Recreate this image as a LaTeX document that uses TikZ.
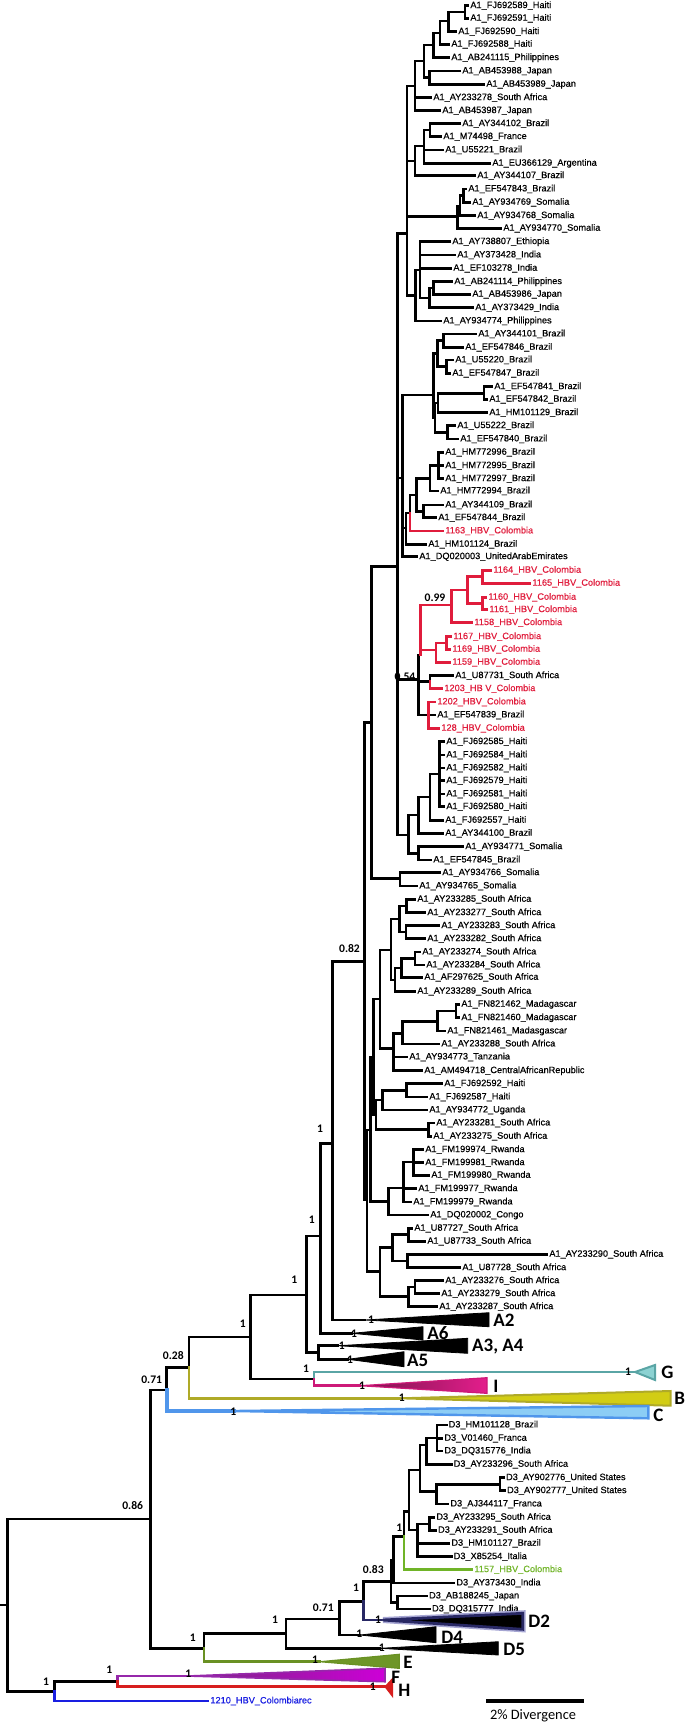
\documentclass[tikz,border=0pt]{standalone}
\usepackage{fontspec}
\setmainfont{Liberation Sans}
\newfontfamily\tipfont{Liberation Sans}[FakeBold=0.5]
\newfontfamily\calfont{Carlito}
\definecolor{hbvred}{RGB}{224,28,60}
\definecolor{hbvgreen}{RGB}{112,180,40}
\definecolor{hbvblue}{RGB}{25,30,225}
\definecolor{tealline}{RGB}{90,165,165}
\definecolor{tealfill}{RGB}{140,210,210}
\definecolor{magline}{RGB}{205,25,120}
\definecolor{magdark}{RGB}{120,20,75}
\definecolor{magbright}{RGB}{228,30,140}
\definecolor{oliveline}{RGB}{175,170,40}
\definecolor{olivefill}{RGB}{210,205,20}
\definecolor{cline}{RGB}{80,150,235}
\definecolor{cfill}{RGB}{140,205,245}
\definecolor{eline}{RGB}{105,145,35}
\definecolor{efill}{RGB}{110,150,40}
\definecolor{fline}{RGB}{150,40,170}
\definecolor{fdark}{RGB}{120,40,130}
\definecolor{fbright}{RGB}{205,0,215}
\definecolor{hline}{RGB}{215,30,30}
\definecolor{navy}{RGB}{40,40,100}
\definecolor{navyhalo}{RGB}{165,165,210}
\tikzset{
  br/.style={line width=1.25pt, line cap=rect, line join=miter},
  tip/.style={anchor=west, inner xsep=1pt, inner ysep=0pt, text height=3.3pt, text depth=0.9pt, font=\tipfont\fontsize{4.6}{5}\selectfont},
  redtip/.style={tip, text=hbvred},
  sup/.style={inner sep=0pt, font=\calfont\bfseries\fontsize{5.8}{6}\selectfont},
  clade/.style={anchor=west, inner sep=0pt, font=\calfont\bfseries\fontsize{9.5}{10}\selectfont},
  tri/.style={fill=black, draw=black, line width=0.4pt, line join=miter}
}
\begin{document}
\begin{tikzpicture}[x=0.5pt,y=-0.5pt]
\useasboundingbox (0,0) rectangle (685,1722);
% ---------- leaves (A1) ----------
\node[tip] (t1) at (468,5.7) {A1\_FJ692589\_Haiti};
\node[tip] (t2) at (468,18.3) {A1\_FJ692591\_Haiti};
\node[tip] (t3) at (456,31.7) {A1\_FJ692590\_Haiti};
\node[tip] (t4) at (449,44.3) {A1\_FJ692588\_Haiti};
\node[tip] (t5) at (449,57.7) {A1\_AB241115\_Philippines};
\node[tip] (t6) at (460,71) {A1\_AB453988\_Japan};
\node[tip] (t7) at (484,84.3) {A1\_AB453989\_Japan};
\node[tip] (t8) at (431,97.7) {A1\_AY233278\_South Africa};
\node[tip] (t9) at (440,110.7) {A1\_AB453987\_Japan};
\node[tip] (t10) at (460,123.7) {A1\_AY344102\_Brazil};
\node[tip] (t11) at (441,136.7) {A1\_M74498\_France};
\node[tip] (t12) at (443,150) {A1\_U55221\_Brazil};
\node[tip] (t13) at (490,163.3) {A1\_EU366129\_Argentina};
\node[tip] (t14) at (475,175.7) {A1\_AY344107\_Brazil};
\node[tip] (t15) at (466,189) {A1\_EF547843\_Brazil};
\node[tip] (t16) at (470,202.3) {A1\_AY934769\_Somalia};
\node[tip] (t17) at (475,215.7) {A1\_AY934768\_Somalia};
\node[tip] (t18) at (501,228.3) {A1\_AY934770\_Somalia};
\node[tip] (t19) at (450,241.7) {A1\_AY738807\_Ethiopia};
\node[tip] (t20) at (455,255) {A1\_AY373428\_India};
\node[tip] (t21) at (451,268.3) {A1\_EF103278\_India};
\node[tip] (t22) at (452,281.7) {A1\_AB241114\_Philippines};
\node[tip] (t23) at (470,294.3) {A1\_AB453986\_Japan};
\node[tip] (t24) at (473,307.7) {A1\_AY373429\_India};
\node[tip] (t25) at (441,321) {A1\_AY934774\_Philippines};
\node[tip] (t26) at (476,334) {A1\_AY344101\_Brazil};
\node[tip] (t27) at (463,347.3) {A1\_EF547846\_Brazil};
\node[tip] (t28) at (453,360) {A1\_U55220\_Brazil};
\node[tip] (t29) at (450,373.3) {A1\_EF547847\_Brazil};
\node[tip] (t30) at (492,386.7) {A1\_EF547841\_Brazil};
\node[tip] (t31) at (487,399.3) {A1\_EF547842\_Brazil};
\node[tip] (t32) at (487,412.7) {A1\_HM101129\_Brazil};
\node[tip] (t33) at (455,425.7) {A1\_U55222\_Brazil};
\node[tip] (t34) at (458,439) {A1\_EF547840\_Brazil};
\node[tip] (t35) at (443,452.3) {A1\_HM772996\_Brazil};
\node[tip] (t36) at (443,465.7) {A1\_HM772995\_Brazil};
\node[tip] (t37) at (443,478.7) {A1\_HM772997\_Brazil};
\node[tip] (t38) at (438,491) {A1\_HM772994\_Brazil};
\node[tip] (t39) at (443,505) {A1\_AY344109\_Brazil};
\node[tip] (t40) at (436,517.7) {A1\_EF547844\_Brazil};
\node[redtip] (t41) at (443,531) {1163\_HBV\_Colombia};
\node[tip] (t42) at (426,544.3) {A1\_HM101124\_Brazil};
\node[tip] (t43) at (417,556.7) {A1\_DQ020003\_UnitedArabEmirates};
\node[redtip] (t44) at (491,570.3) {1164\_HBV\_Colombia};
\node[redtip] (t45) at (530,583.3) {1165\_HBV\_Colombia};
\node[redtip] (t46) at (486,597.3) {1160\_HBV\_Colombia};
\node[redtip] (t47) at (487,609.7) {1161\_HBV\_Colombia};
\node[redtip] (t48) at (472,622.7) {1158\_HBV\_Colombia};
\node[redtip] (t49) at (451,636.7) {1167\_HBV\_Colombia};
\node[redtip] (t50) at (450,649.3) {1169\_HBV\_Colombia};
\node[redtip] (t51) at (450,662.3) {1159\_HBV\_Colombia};
\node[tip] (t52) at (453,675.7) {A1\_U87731\_South Africa};
\node[redtip] (t53) at (442,688.7) {1203\_HB V\_Colombia};
\node[redtip] (t54) at (435,702) {1202\_HBV\_Colombia};
\node[tip] (t55) at (435,715) {A1\_EF547839\_Brazil};
\node[redtip] (t56) at (439,728.3) {128\_HBV\_Colombia};
\node[tip] (t57) at (444,741.7) {A1\_FJ692585\_Haiti};
\node[tip] (t58) at (444,755) {A1\_FJ692584\_Haiti};
\node[tip] (t59) at (444,768) {A1\_FJ692582\_Haiti};
\node[tip] (t60) at (444,780.7) {A1\_FJ692579\_Haiti};
\node[tip] (t61) at (444,794) {A1\_FJ692581\_Haiti};
\node[tip] (t62) at (444,806.7) {A1\_FJ692580\_Haiti};
\node[tip] (t63) at (443,820.3) {A1\_FJ692557\_Haiti};
\node[tip] (t64) at (443,833.3) {A1\_AY344100\_Brazil};
\node[tip] (t65) at (463,846.7) {A1\_AY934771\_Somalia};
\node[tip] (t66) at (431,860) {A1\_EF547845\_Brazil};
\node[tip] (t67) at (440,872.7) {A1\_AY934766\_Somalia};
\node[tip] (t68) at (417,886) {A1\_AY934765\_Somalia};
\node[tip] (t69) at (415,899.3) {A1\_AY233285\_South Africa};
\node[tip] (t70) at (425,912.7) {A1\_AY233277\_South Africa};
\node[tip] (t71) at (439,925.7) {A1\_AY233283\_South Africa};
\node[tip] (t72) at (425,938.7) {A1\_AY233282\_South Africa};
\node[tip] (t73) at (420,952) {A1\_AY233274\_South Africa};
\node[tip] (t74) at (424,965) {A1\_AY233284\_South Africa};
\node[tip] (t75) at (422,977.3) {A1\_AF297625\_South Africa};
\node[tip] (t76) at (415,991.3) {A1\_AY233289\_South Africa};
\node[tip] (t77) at (459,1004.3) {A1\_FN821462\_Madagascar};
\node[tip] (t78) at (459,1017.7) {A1\_FN821460\_Madagascar};
\node[tip] (t79) at (445,1031) {A1\_FN821461\_Madasgascar};
\node[tip] (t80) at (439,1044) {A1\_AY233288\_South Africa};
\node[tip] (t81) at (407,1057) {A1\_AY934773\_Tanzania};
\node[tip] (t82) at (422,1070.7) {A1\_AM494718\_CentralAfricanRepublic};
\node[tip] (t83) at (442,1083.7) {A1\_FJ692592\_Haiti};
\node[tip] (t84) at (427,1097) {A1\_FJ692587\_Haiti};
\node[tip] (t85) at (427,1110) {A1\_AY934772\_Uganda};
\node[tip] (t86) at (434,1123) {A1\_AY233281\_South Africa};
\node[tip] (t87) at (431,1136.3) {A1\_AY233275\_South Africa};
\node[tip] (t88) at (423,1149.7) {A1\_FM199974\_Rwanda};
\node[tip] (t89) at (423,1162.7) {A1\_FM199981\_Rwanda};
\node[tip] (t90) at (429,1175.3) {A1\_FM199980\_Rwanda};
\node[tip] (t91) at (416,1188.7) {A1\_FM199977\_Rwanda};
\node[tip] (t92) at (411,1202) {A1\_FM199979\_Rwanda};
\node[tip] (t93) at (428,1215) {A1\_DQ020002\_Congo};
\node[tip] (t94) at (412,1228.3) {A1\_U87727\_South Africa};
\node[tip] (t95) at (425,1241.3) {A1\_U87733\_South Africa};
\node[tip] (t96) at (547,1254.3) {A1\_AY233290\_South Africa};
\node[tip] (t97) at (460,1267.7) {A1\_U87728\_South Africa};
\node[tip] (t98) at (443,1280.7) {A1\_AY233276\_South Africa};
\node[tip] (t99) at (439,1293.7) {A1\_AY233279\_South Africa};
\node[tip] (t100) at (437,1306.7) {A1\_AY233287\_South Africa};
% ---------- leaves (D3 etc.) ----------
\node[tip] (d1) at (446.3,1425) {D3\_HM101128\_Brazil};
\node[tip] (d2) at (442,1438.3) {D3\_V01460\_Franca};
\node[tip] (d3) at (442,1451) {D3\_DQ315776\_India};
\node[tip] (d4) at (451.3,1464.3) {D3\_AY233296\_South Africa};
\node[tip] (d5) at (503.7,1477.7) {D3\_AY902776\_United States};
\node[tip] (d6) at (504.7,1490.7) {D3\_AY902777\_United States};
\node[tip] (d7) at (448,1504) {D3\_AJ344117\_Franca};
\node[tip] (d8) at (434,1517.3) {D3\_AY233295\_South Africa};
\node[tip] (d9) at (435.7,1530.3) {D3\_AY233291\_South Africa};
\node[tip] (d10) at (449,1543.3) {D3\_HM101127\_Brazil};
\node[tip] (d11) at (451.3,1556.7) {D3\_X85254\_Italia};
\node[tip, text=hbvgreen] (d12) at (472,1569.7) {1157\_HBV\_Colombia};
\node[tip] (d13) at (454,1583) {D3\_AY373430\_India};
\node[tip] (d14) at (426.7,1596) {D3\_AB188245\_Japan};
\node[tip] (d15) at (429.7,1609) {D3\_DQ315777\_India};
\node[tip, text=hbvblue] (x1210) at (208,1701) {1210\_HBV\_Colombiarec};
% ---------- internal nodes ----------
\coordinate (h1) at (465,12);
\coordinate (h2) at (448.3,21);
\coordinate (h3) at (440,33);
\coordinate (h4) at (433.3,45);
\coordinate (j1) at (429.3,77.7);
\coordinate (h5) at (424,61);
\coordinate (h6) at (415,86);
\coordinate (m1) at (430,130);
\coordinate (m2) at (424,146);
\coordinate (m3) at (415,161);
\coordinate (s1) at (463.3,195.7);
\coordinate (s2) at (460,206);
\coordinate (s3) at (457.3,216.7);
\coordinate (nt1) at (433.3,288);
\coordinate (nt2) at (429.3,298);
\coordinate (nt3) at (420,270);
\coordinate (nt4) at (415.3,295.7);
\coordinate (q1) at (407,233.3);
\coordinate (b1) at (443.3,340.7);
\coordinate (b2) at (446.7,366.7);
\coordinate (b3) at (437.3,353.7);
\coordinate (b4) at (484,393.3);
\coordinate (b5) at (438,403);
\coordinate (b6) at (447.7,432.3);
\coordinate (b7) at (435,418);
\coordinate (b8) at (433.3,395);
\coordinate (c1) at (438.3,465.7);
\coordinate (c2) at (430,478.3);
\coordinate (c4) at (423.3,511.3);
\coordinate (c3) at (416.7,495);
\coordinate (c5) at (410,513);
\coordinate (c6) at (406,528);
\coordinate (q3) at (402.5,478);
\coordinate (r1) at (482.7,576.7);
\coordinate (r3) at (482.7,603.5);
\coordinate (r2) at (467.5,590);
\coordinate (r4) at (451.7,605);
\coordinate (r7) at (446.7,643);
\coordinate (r6) at (436,650);
\coordinate (r5) at (420.7,655);
\coordinate (x1) at (430,681.7);
\coordinate (x2) at (428.3,715);
\coordinate (n054) at (418.3,679.3);
\coordinate (hd1) at (439.3,774);
\coordinate (hd2) at (430,797);
\coordinate (hd3) at (418.3,815);
\coordinate (hd5) at (418.3,853.3);
\coordinate (hd4) at (408.3,835);
\coordinate (q2) at (397.3,566.7);
\coordinate (nv) at (400,878.3);
\coordinate (nr) at (371.7,722.5);
\coordinate (sa1) at (406.7,906);
\coordinate (sa2) at (406,932);
\coordinate (sa3) at (399.3,919);
\coordinate (sa4) at (415,958.5);
\coordinate (sa5) at (401.7,968);
\coordinate (sa6) at (395,980);
\coordinate (sa7) at (391,950);
\coordinate (mg1) at (456,1011);
\coordinate (mg2) at (437.3,1021.7);
\coordinate (mg3) at (402.7,1033.3);
\coordinate (mg4) at (393.3,1048.3);
\coordinate (sa8) at (380,999);
\coordinate (hu1) at (406.7,1090.3);
\coordinate (hu2) at (382.7,1100);
\coordinate (hu3) at (428.3,1129.7);
\coordinate (hu4) at (376,1115);
\coordinate (na) at (373.5,1057);
\coordinate (rw1) at (413.3,1162);
\coordinate (rw2) at (403.3,1188);
\coordinate (rw3) at (388.3,1201.7);
\coordinate (nb) at (370.7,1130);
\coordinate (u1) at (408.3,1234.7);
\coordinate (u2) at (407.3,1261);
\coordinate (u3) at (392.3,1247.3);
\coordinate (u5) at (415,1287);
\coordinate (u6) at (408.3,1296.7);
\coordinate (u7) at (380,1271.7);
\coordinate (nc) at (367,1200);
\coordinate (ns) at (364.5,961.7);
\coordinate (nt) at (332.7,1143.3);
\coordinate (nbb) at (320.7,1236);
\coordinate (na34) at (318.3,1352.7);
\coordinate (naa) at (306.7,1295);
\coordinate (ngi) at (314,1379);
\coordinate (nd) at (250.7,1337);
\coordinate (n028) at (189,1367.7);
\coordinate (n071) at (166.7,1390);
\coordinate (n086) at (150.7,1519);
\coordinate (dn9) at (500,1484.3);
\coordinate (dn7) at (436.7,1491.7);
\coordinate (dn8) at (437,1438);
\coordinate (dn6) at (426.7,1445);
\coordinate (dn5) at (420,1470);
\coordinate (dn11) at (429.3,1523.8);
\coordinate (dn4) at (417.3,1530);
\coordinate (dn2) at (409,1511.7);
\coordinate (dn1) at (404,1536.7);
\coordinate (dnc) at (393.3,1560);
\coordinate (dab) at (397.7,1602.7);
\coordinate (d83) at (391,1581.7);
\coordinate (d23) at (363.3,1601.7);
\coordinate (d071) at (339.3,1619);
\coordinate (dd1) at (286,1633.3);
\coordinate (dde) at (204,1648.3);
\coordinate (fh) at (117.3,1681.7);
\coordinate (fh1) at (54.3,1691.7);
\coordinate (root) at (7.3,1605);
\coordinate (rs) at (0,1605);
% collapsed clade apexes
\coordinate (A2ap) at (365,1320);
\coordinate (A6ap) at (352,1333.3);
\coordinate (A34ap) at (338,1345.7);
\coordinate (A5ap) at (348,1359.3);
\coordinate (Gap) at (635,1372);
\coordinate (Iap) at (360,1385.7);
\coordinate (Bap) at (400,1398.3);
\coordinate (Cap) at (234,1411);
\coordinate (D2ap) at (383,1620);
\coordinate (D4ap) at (360,1635);
\coordinate (D5ap) at (380,1648.3);
\coordinate (Eap) at (320,1661.7);
\coordinate (Fap) at (188,1676);
\coordinate (Hap) at (385,1686.7);
% ---------- black branches ----------
\foreach \p/\c in {h1/t1,h1/t2,h2/h1,h2/t3,h3/h2,h3/t4,h4/h3,h4/t5,j1/t6,j1/t7,h5/h4,h5/j1,h6/h5,h6/t8,h6/t9,
  m1/t10,m1/t11,m2/m1,m2/t12,m2/t13,m3/m2,m3/t14,s1/t15,s1/t16,s2/s1,s2/t17,s3/s2,s3/t18,
  nt1/t22,nt1/t23,nt2/nt1,nt2/t24,nt3/t19,nt3/t20,nt3/t21,nt3/nt2,nt4/nt3,nt4/t25,q1/h6,q1/m3,q1/s3,q1/nt4,
  b1/t26,b1/t27,b2/t28,b2/t29,b3/b1,b3/b2,b4/t30,b4/t31,b5/b4,b5/t32,b6/t33,b6/t34,b7/b5,b7/b6,b8/b3,b8/b7,
  c1/t35,c1/t36,c1/t37,c2/c1,c2/t38,c4/t39,c4/t40,c3/c2,c3/c4,c5/c3,c6/c5,c6/t42,q3/b8,q3/c6,q3/t43,
  n054/r5,x1/t52,x2/t55,n054/x1,n054/x2,
  hd1/t57,hd1/t58,hd1/t59,hd1/t60,hd1/t61,hd1/t62,hd2/hd1,hd2/t63,hd3/hd2,hd3/t64,hd5/t65,hd5/t66,hd4/hd3,hd4/hd5,
  q2/q1,q2/q3,q2/n054,q2/hd4,nv/t67,nv/t68,nr/q2,nr/nv,
  sa1/t69,sa1/t70,sa2/t71,sa2/t72,sa3/sa1,sa3/sa2,sa4/t73,sa4/t74,sa5/sa4,sa5/t75,sa6/sa5,sa6/t76,sa7/sa3,sa7/sa6,
  mg1/t77,mg1/t78,mg2/mg1,mg2/t79,mg3/mg2,mg3/t80,mg4/mg3,mg4/t81,mg4/t82,sa8/sa7,sa8/mg4,
  hu1/t83,hu1/t84,hu2/hu1,hu2/t85,hu3/t86,hu3/t87,hu4/hu2,hu4/hu3,na/sa8,na/hu4,
  rw1/t88,rw1/t89,rw1/t90,rw2/rw1,rw2/t91,rw2/t92,rw3/rw2,rw3/t93,nb/na,nb/rw3,
  u1/t94,u1/t95,u2/t96,u2/t97,u3/u1,u3/u2,u5/t98,u5/t99,u6/u5,u6/t100,u7/u3,u7/u6,nc/nb,nc/u7,
  ns/nr,ns/nc,nt/ns,nt/A2ap,nbb/nt,nbb/A6ap,na34/A34ap,na34/A5ap,naa/nbb,naa/na34,nd/naa,nd/ngi,
  n028/nd,n071/n028,n086/n071,root/n086,root/fh1,fh1/fh,
  dn9/d5,dn9/d6,dn7/dn9,dn7/d7,dn8/d1,dn8/d2,dn8/d3,dn6/dn8,dn6/d4,dn5/dn6,dn5/dn7,dn11/d8,dn11/d9,
  dn4/dn11,dn4/d10,dn4/d11,dn2/dn5,dn2/dn4,dn1/dn2,dnc/dn1,dnc/d13,dab/d14,dab/d15,d83/dnc,d83/dab,
  d23/d83,d071/d23,d071/D4ap,dd1/d071,dd1/D5ap,dde/dd1,n086/dde}
  \draw[br] (\p) |- (\c);
\draw[br] (rs) -- (root);
% ---------- red branches ----------
\foreach \p/\c in {c5/t41,r5/r4,r5/r6,r4/r2,r4/t48,r2/r1,r2/r3,r1/t44,r1/t45,r3/t46,r3/t47,
  r6/r7,r6/t51,r7/t49,r7/t50,x1/t53,x2/t54,x2/t56}
  \draw[br, hbvred] (\p) |- (\c);
% ---------- other coloured branches ----------
\draw[br, hbvgreen] (dn1) |- (d12);
\draw[br, hbvblue] (fh1) |- (x1210);
\draw[br, tealline] (ngi) |- (Gap);
\draw[br, magline] (ngi) |- (Iap);
\draw[br, oliveline] (n028) |- (Bap);
\draw[br, cline, line width=1.8pt] (n071) |- (Cap);
\draw[br, navy] (d23) |- (D2ap);
\draw[br, eline] (dde) |- (Eap);
\draw[br, fline] (fh) |- (Fap);
\draw[br, hline] (fh) |- (Hap);
% ---------- collapsed clades ----------
\draw[tri] (A2ap) -- (489,1312.7) -- (489,1326.7) -- cycle;
\draw[tri] (A6ap) -- (423,1326.7) -- (423,1340) -- cycle;
\draw[tri] (A34ap) -- (467.7,1338.3) -- (467.7,1353.3) -- cycle;
\draw[tri] (A5ap) -- (404,1351.7) -- (404,1366.7) -- cycle;
\draw[fill=tealfill, draw=tealline, line width=1pt, line join=miter] (Gap) -- (655,1365) -- (655,1380) -- cycle;
\draw[left color=magdark, right color=magbright, draw=magline, line width=0.6pt] (Iap) -- (487,1377.7) -- (487,1393.3) -- cycle;
\draw[fill=olivefill, draw=oliveline, line width=1pt, line join=miter] (Bap) -- (670.7,1391) -- (670.7,1405.7) -- cycle;
\draw[fill=cfill, draw=cline, line width=1.2pt, line join=miter] (Cap) -- (648.3,1406) -- (648.3,1418.3) -- cycle;
\draw[draw=navyhalo, line width=3pt, line join=miter] (D2ap) -- (522.7,1613.3) -- (522.7,1629.3) -- cycle;
\draw[fill=black, draw=navy, line width=1.4pt, line join=miter] (D2ap) -- (522.7,1613.3) -- (522.7,1629.3) -- cycle;
\draw[tri] (D4ap) -- (436,1626.7) -- (436,1642.7) -- cycle;
\draw[tri] (D5ap) -- (498.3,1641.7) -- (498.3,1655) -- cycle;
\draw[fill=efill, draw=eline, line width=0.6pt] (Eap) -- (399.3,1654.3) -- (399.3,1668.3) -- cycle;
\draw[left color=fdark, right color=fbright, draw=fline, line width=0.8pt] (Fap) -- (385,1668.3) -- (385,1681.7) -- cycle;
\draw[fill=hline, draw=hline, line width=0.5pt] (Hap) -- (392.7,1678.3) -- (392.7,1696.7) -- cycle;
% ---------- clade labels ----------
\node[clade] (lA2) at (493,1320) {A2};
\node[clade] (lA6) at (427,1333.3) {A6};
\node[clade] (lA34) at (471.7,1346.7) {A3, A4};
\node[clade] (lA5) at (406.7,1360.7) {A5};
\node[clade] (lG) at (661,1372) {G};
\node[clade] (lI) at (493,1386) {I};
\node[clade] (lB) at (674,1398.3) {B};
\node[clade] (lC) at (653,1415.5) {C};
\node[clade] (lD2) at (528,1621.7) {D2};
\node[clade] (lD4) at (441,1637) {D4};
\node[clade] (lD5) at (503,1649) {D5};
\node[clade] (lE) at (403,1662.5) {E};
\node[clade] (lF) at (391,1677.5) {F};
\node[clade] (lH) at (398,1690) {H};
% ---------- support values ----------
\node[sup] (p1) at (349.5,948.3) {0.82};
\node[sup] (p2) at (435,597.7) {0.99};
\node[sup] (p3) at (405,677) {0.54};
\node[sup] (p4) at (320,1129) {1};
\node[sup] (p5) at (311.7,1219.3) {1};
\node[sup] (p6) at (294.3,1279.3) {1};
\node[sup] (p7) at (242.7,1324) {1};
\node[sup] (p8) at (306,1369) {1};
\node[sup] (p9) at (173.3,1355.7) {0.28};
\node[sup] (p10) at (151.7,1380) {0.71};
\node[sup] (p11) at (132.7,1506) {0.86};
\node[sup] (p12) at (192.7,1638) {1};
\node[sup] (p13) at (275,1620) {1};
\node[sup] (p14) at (323.3,1608) {0.71};
\node[sup] (p15) at (356,1587.7) {1};
\node[sup] (p16) at (373.3,1569.3) {0.83};
\node[sup] (p17) at (399.3,1527.3) {1};
\node[sup] (p18) at (46,1681.7) {1};
\node[sup] (p19) at (109.3,1670) {1};
\node[sup] (p20) at (371,1320) {1};
\node[sup] (p21) at (354,1333.3) {1};
\node[sup] (p22) at (341.7,1345.7) {1};
\node[sup] (p23) at (350,1359.3) {1};
\node[sup] (p24) at (628,1372) {1};
\node[sup] (p25) at (362,1386) {1};
\node[sup] (p26) at (401.7,1398) {1};
\node[sup] (p27) at (233.3,1411.7) {1};
\node[sup] (p28) at (378,1620) {1};
\node[sup] (p29) at (359.3,1633.3) {1};
\node[sup] (p30) at (381.7,1647.7) {1};
\node[sup] (p31) at (315,1660) {1};
\node[sup] (p32) at (188.3,1674) {1};
\node[sup] (p33) at (372.7,1686.7) {1};
% ---------- scale bar ----------
\coordinate (sb1) at (486,1701);
\coordinate (sb2) at (584,1701);
\draw[line width=2pt] (sb1) -- (sb2);
\node[inner sep=0pt, font=\calfont\fontsize{7.2}{8}\selectfont] (sbl) at (533,1715.5) {2\% Divergence};
\end{tikzpicture}
\end{document}
